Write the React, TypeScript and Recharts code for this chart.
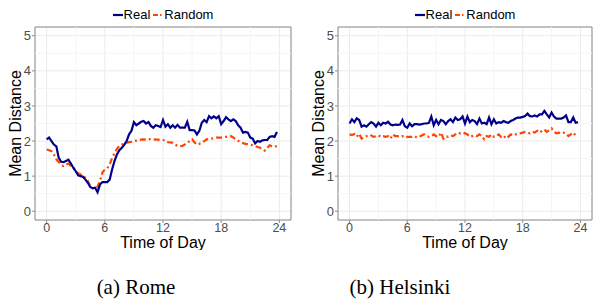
import { LineChart, Line, XAxis, YAxis, CartesianGrid, ReferenceLine, ReferenceArea } from 'recharts'

// time of day, every 15 minutes
const hours = [
  0, 0.25, 0.5, 0.75, 1, 1.25, 1.5, 1.75, 2, 2.25, 2.5, 2.75, 3, 3.25, 3.5, 3.75,
  4, 4.25, 4.5, 4.75, 5, 5.25, 5.5, 5.75, 6, 6.25, 6.5, 6.75, 7, 7.25, 7.5, 7.75,
  8, 8.25, 8.5, 8.75, 9, 9.25, 9.5, 9.75, 10, 10.25, 10.5, 10.75, 11, 11.25, 11.5, 11.75,
  12, 12.25, 12.5, 12.75, 13, 13.25, 13.5, 13.75, 14, 14.25, 14.5, 14.75, 15, 15.25, 15.5, 15.75,
  16, 16.25, 16.5, 16.75, 17, 17.25, 17.5, 17.75, 18, 18.25, 18.5, 18.75, 19, 19.25, 19.5, 19.75,
  20, 20.25, 20.5, 20.75, 21, 21.25, 21.5, 21.75, 22, 22.25, 22.5, 22.75, 23, 23.25, 23.5, 23.75,
]

const romeReal = [
  2.05, 2.1, 2.0, 1.9, 1.85, 1.52, 1.41, 1.4, 1.43, 1.47, 1.36, 1.24, 1.14, 1.02, 1.0, 0.98,
  0.9, 0.81, 0.69, 0.65, 0.67, 0.54, 0.76, 0.83, 0.83, 0.83, 0.9, 1.19, 1.43, 1.62, 1.74, 1.81,
  1.89, 2.0, 2.19, 2.29, 2.54, 2.45, 2.5, 2.55, 2.57, 2.5, 2.54, 2.43, 2.38, 2.45, 2.43, 2.4,
  2.6, 2.41, 2.48, 2.38, 2.45, 2.38, 2.46, 2.38, 2.38, 2.38, 2.55, 2.31, 2.31, 2.3, 2.19, 2.29,
  2.52, 2.6, 2.54, 2.71, 2.65, 2.7, 2.65, 2.71, 2.48, 2.57, 2.68, 2.62, 2.57, 2.62, 2.57, 2.45,
  2.38, 2.24, 2.26, 2.24, 2.1, 2.07, 1.93, 2.0, 1.98, 2.02, 2.03, 2.03, 2.12, 2.14, 2.12, 2.26,
]

const romeRandom = [
  1.76, 1.74, 1.71, 1.62, 1.48, 1.4, 1.31, 1.29, 1.33, 1.36, 1.29, 1.24, 1.14, 1.08, 1.05, 1.0,
  0.95, 0.86, 0.71, 0.67, 0.64, 0.7, 0.86, 1.1, 1.19, 1.22, 1.33, 1.52, 1.65, 1.78, 1.86, 1.9,
  1.92, 1.95, 1.97, 1.98, 2.0, 2.01, 2.03, 2.04, 2.05, 2.04, 2.05, 2.06, 2.05, 2.04, 2.04, 2.03,
  2.03, 2.01, 1.97, 1.96, 1.95, 1.9, 1.86, 1.85, 1.86, 1.9, 1.95, 2.0, 2.05, 1.96, 1.9, 1.92,
  1.95, 2.0, 2.05, 2.06, 2.07, 2.08, 2.1, 2.1, 2.1, 2.11, 2.12, 2.13, 2.14, 2.1, 2.05, 2.01,
  1.97, 1.94, 1.92, 1.91, 1.9, 1.88, 1.86, 1.83, 1.81, 1.77, 1.73, 1.8, 1.88, 1.85, 1.83, 1.86,
]

const helsinkiReal = [
  2.5, 2.62, 2.54, 2.65, 2.6, 2.41, 2.45, 2.41, 2.48, 2.54, 2.5, 2.41, 2.52, 2.45, 2.52, 2.5,
  2.55, 2.47, 2.45, 2.47, 2.46, 2.47, 2.6, 2.42, 2.38, 2.5, 2.42, 2.48, 2.48, 2.47, 2.48, 2.5,
  2.5, 2.52, 2.7, 2.45, 2.6, 2.48, 2.6, 2.57, 2.48, 2.57, 2.62, 2.54, 2.67, 2.6, 2.62, 2.7,
  2.5, 2.7, 2.54, 2.6, 2.57, 2.48, 2.64, 2.5, 2.52, 2.48, 2.67, 2.48, 2.62, 2.5, 2.54, 2.52,
  2.57, 2.54, 2.52, 2.57, 2.6, 2.64, 2.67, 2.67, 2.69, 2.71, 2.78, 2.71, 2.7, 2.73, 2.7, 2.76,
  2.76, 2.86, 2.76, 2.67, 2.81, 2.7, 2.64, 2.64, 2.64, 2.67, 2.73, 2.54, 2.54, 2.67, 2.52, 2.54,
]

const helsinkiRandom = [
  2.19, 2.17, 2.2, 2.12, 2.21, 2.07, 2.1, 2.14, 2.12, 2.16, 2.12, 2.14, 2.16, 2.12, 2.14, 2.12,
  2.14, 2.07, 2.19, 2.14, 2.14, 2.12, 2.14, 2.1, 2.12, 2.12, 2.12, 2.14, 2.1, 2.12, 2.16, 2.19,
  2.14, 2.12, 2.14, 2.19, 2.14, 2.12, 2.24, 2.07, 2.14, 2.12, 2.16, 2.14, 2.19, 2.24, 2.22, 2.24,
  2.22, 2.19, 2.12, 2.14, 2.16, 2.14, 2.19, 2.14, 2.05, 2.14, 2.12, 2.19, 2.12, 2.14, 2.19, 2.12,
  2.16, 2.07, 2.12, 2.19, 2.16, 2.19, 2.19, 2.22, 2.24, 2.26, 2.24, 2.22, 2.26, 2.24, 2.29, 2.24,
  2.29, 2.33, 2.26, 2.31, 2.36, 2.26, 2.22, 2.24, 2.22, 2.24, 2.22, 2.14, 2.19, 2.24, 2.16, 2.14,
]

const xTicks = [0, 6, 12, 18, 24]
const xMinor = [3, 9, 15, 21]
const yTicks = [0, 1, 2, 3, 4, 5]
const yMinor = [0.5, 1.5, 2.5, 3.5, 4.5]

const REAL = '#00008b'
const RANDOM = '#ff4500'
const DASH = '6 3 2 3'
const SANS = '"Liberation Sans", Arial, sans-serif'

const Panel = ({ left, width, real, random, caption, captionX }: any) => {
  const data = hours.map((h, i) => ({ h, real: real[i], random: random[i] }))
  const plotLeft = 35
  const plotRight = width - 6
  return (
    <div style={{ position: 'absolute', left, top: 0, width, height: 303 }}>
      {/* legend */}
      <div
        style={{
          position: 'absolute', top: 7, left: plotLeft, width: plotRight - plotLeft,
          display: 'flex', justifyContent: 'center', alignItems: 'center',
          fontFamily: SANS, fontSize: 13, color: '#000', lineHeight: '16px',
        }}
      >
        <svg width={10} height={10}><line x1={0} y1={5} x2={10} y2={5} stroke={REAL} strokeWidth={2.2} /></svg>
        <span style={{ marginLeft: 1, marginRight: 3 }}>Real</span>
        <svg width={10} height={10}><line x1={0} y1={5} x2={10} y2={5} stroke={RANDOM} strokeWidth={2.2} strokeDasharray="5 2 1.5 2" /></svg>
        <span style={{ marginLeft: 1 }}>Random</span>
      </div>
      <LineChart width={width} height={250} data={data} margin={{ top: 27, right: 6, bottom: 0, left: 0 }}>
        <CartesianGrid stroke="#ebebeb" strokeWidth={1} />
        {xMinor.map((v) => (
          <ReferenceLine key={'vx' + v} x={v} stroke="#f5f5f5" strokeWidth={1} />
        ))}
        {yMinor.map((v) => (
          <ReferenceLine key={'hy' + v} y={v} stroke="#f5f5f5" strokeWidth={1} />
        ))}
        <XAxis
          dataKey="h"
          type="number"
          domain={[-1.2, 25.2]}
          ticks={xTicks}
          allowDataOverflow
          height={30}
          axisLine={false}
          tickSize={3}
          tickLine={{ stroke: '#8c8c8c' }}
          tick={{ fill: '#4d4d4d', fontSize: 12.5, fontFamily: SANS }}
          tickMargin={0}
          label={{ value: 'Time of Day', position: 'insideBottom', offset: 2, fill: '#000', fontSize: 16, fontFamily: SANS }}
        />
        <YAxis
          type="number"
          domain={[-0.25, 5.25]}
          ticks={yTicks}
          allowDataOverflow
          width={plotLeft}
          axisLine={false}
          tickSize={3}
          tickLine={{ stroke: '#8c8c8c' }}
          tick={{ fill: '#4d4d4d', fontSize: 13, fontFamily: SANS }}
          tickMargin={1}
          label={{
            value: 'Mean Distance', angle: -90, position: 'insideLeft', offset: 15,
            fill: '#000', fontSize: 16, fontFamily: SANS, style: { textAnchor: 'middle' },
          }}
        />
        <Line dataKey="random" stroke={RANDOM} strokeWidth={2.2} strokeDasharray={DASH} dot={false} isAnimationActive={false} />
        <Line dataKey="real" stroke={REAL} strokeWidth={2.2} dot={false} isAnimationActive={false} />
        <ReferenceArea x1={-1.2} x2={25.2} y1={-0.25} y2={5.25} fill="none" fillOpacity={0} stroke="#8c8c8c" strokeWidth={1} />
      </LineChart>
      <div
        style={{
          position: 'absolute', top: 275, left: captionX - 80, width: 160, textAlign: 'center',
          fontFamily: '"Liberation Serif", "Times New Roman", serif', fontSize: 21, color: '#000',
        }}
      >
        {caption}
      </div>
    </div>
  )
}

export default function App() {
  return (
    <div style={{ position: 'absolute', left: 0, top: 0, width: 595, height: 303, background: '#fff', overflow: 'hidden' }}>
      <Panel left={0} width={297} real={romeReal} random={romeRandom} caption="(a) Rome" captionX={136} />
      <Panel left={303} width={295} real={helsinkiReal} random={helsinkiRandom} caption="(b) Helsinki" captionX={97} />
    </div>
  )
}
